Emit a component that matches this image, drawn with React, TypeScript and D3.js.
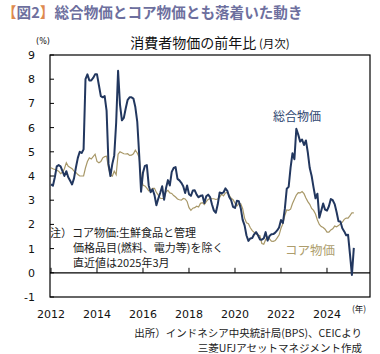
import * as d3 from "d3";

// 総合物価 (headline CPI, y/y %), monthly from Jan 2012
const headline2012 = [3.65, 3.6, 3.95, 4.4, 4.45, 4.4, 4.2, 4.0, 4.2, 3.95, 3.8, 3.65];
const headline2013 = [3.9, 4.35, 4.75, 5.0, 4.95, 5.1, 8.0, 8.2, 7.95, 7.95, 8.05, 8.2];
const headline2014 = [8.2, 7.75, 7.3, 7.25, 7.3, 6.7, 4.5, 4.0, 4.5, 4.85, 6.2, 8.35];
const headline2015 = [6.95, 6.3, 6.4, 6.8, 7.15, 7.25, 7.25, 7.2, 6.85, 6.25, 4.9, 3.35];
const headline2016 = [4.14, 4.42, 4.45, 3.6, 3.33, 3.45, 3.21, 2.79, 3.07, 3.31, 3.58, 3.02];
const headline2017 = [3.49, 3.83, 3.61, 4.17, 4.33, 4.37, 3.88, 3.82, 3.72, 3.58, 3.3, 3.61];
const headline2018 = [3.25, 3.18, 3.4, 3.41, 3.23, 3.12, 3.18, 3.2, 2.88, 3.16, 3.23, 3.13];
const headline2019 = [2.82, 2.57, 2.48, 2.83, 3.32, 3.28, 3.32, 3.49, 3.39, 3.13, 3.0, 2.72];
const headline2020 = [2.68, 2.98, 2.96, 2.67, 2.19, 1.96, 1.54, 1.32, 1.42, 1.44, 1.59, 1.68];
const headline2021 = [1.55, 1.38, 1.37, 1.42, 1.68, 1.33, 1.52, 1.59, 1.6, 1.66, 1.75, 1.87];
const headline2022 = [2.18, 2.06, 2.64, 3.47, 3.55, 4.35, 4.94, 4.69, 5.95, 5.71, 5.42, 5.51];
const headline2023 = [5.28, 5.47, 4.97, 4.33, 4.0, 3.52, 3.08, 3.27, 2.28, 2.56, 2.86, 2.61];
const headline2024 = [2.57, 2.75, 3.05, 3.0, 2.84, 2.51, 2.13, 2.12, 1.84, 1.71, 1.55, 1.57];
const headline2025 = [0.76, -0.09, 1.03];

// コア物価 (core CPI, y/y %), monthly from Jan 2012
const core2012 = [4.34, 4.3, 4.27, 4.24, 4.2, 4.1, 4.15, 4.3, 4.55, 4.4, 4.35, 4.3];
const core2013 = [4.2, 4.15, 4.06, 4.0, 4.0, 4.0, 4.34, 4.6, 4.75, 4.7, 4.8, 4.9];
const core2014 = [4.6, 4.55, 4.6, 4.75, 4.8, 4.82, 4.34, 4.05, 4.0, 4.2, 4.05, 4.9];
const core2015 = [5.0, 4.96, 4.92, 4.91, 4.92, 4.85, 4.86, 4.92, 5.07, 4.95, 4.77, 3.95];
const core2016 = [3.62, 3.59, 3.5, 3.39, 3.41, 3.49, 3.49, 3.32, 3.21, 3.08, 3.07, 3.07];
const core2017 = [3.35, 3.41, 3.3, 3.28, 3.19, 3.13, 3.05, 3.02, 3.0, 3.07, 3.05, 2.95];
const core2018 = [2.69, 2.58, 2.67, 2.69, 2.75, 2.72, 2.87, 2.9, 2.82, 2.94, 3.03, 3.07];
const core2019 = [3.06, 3.06, 3.03, 3.05, 3.12, 3.25, 3.18, 3.3, 3.32, 3.2, 3.08, 3.02];
const core2020 = [2.88, 2.76, 2.87, 2.85, 2.65, 2.26, 2.07, 2.03, 1.86, 1.74, 1.67, 1.6];
const core2021 = [1.56, 1.53, 1.21, 1.18, 1.37, 1.49, 1.4, 1.31, 1.3, 1.33, 1.44, 1.56];
const core2022 = [1.84, 2.03, 2.37, 2.6, 2.58, 2.63, 2.86, 3.04, 3.21, 3.31, 3.3, 3.36];
const core2023 = [3.27, 3.09, 2.94, 2.83, 2.66, 2.58, 2.43, 2.18, 2.0, 1.91, 1.87, 1.8];
const core2024 = [1.68, 1.68, 1.77, 1.82, 1.93, 1.9, 1.95, 2.02, 2.09, 2.21, 2.26, 2.26];
const core2025 = [2.36, 2.48, 2.48];

const headline = [
  ...headline2012, ...headline2013, ...headline2014, ...headline2015, ...headline2016,
  ...headline2017, ...headline2018, ...headline2019, ...headline2020, ...headline2021,
  ...headline2022, ...headline2023, ...headline2024, ...headline2025,
];
const core = [
  ...core2012, ...core2013, ...core2014, ...core2015, ...core2016, ...core2017, ...core2018,
  ...core2019, ...core2020, ...core2021, ...core2022, ...core2023, ...core2024, ...core2025,
];

const xTicks = [2012, 2014, 2016, 2018, 2020, 2022, 2024];
const yTicks = [-1, 0, 1, 2, 3, 4, 5, 6, 7, 8, 9];
const noteLines = ["注）コア物価:生鮮食品と管理", "価格品目(燃料、電力等)を除く", "直近値は2025年3月"];
const sourceLines = ["出所）インドネシア中央統計局(BPS)、CEICより", "三菱UFJアセットマネジメント作成"];

const W = 380;
const H = 354;
const left = 50;
const right = 370;
const top = 55;
const bottom = 297;

const jp = "'Noto Sans CJK JP', sans-serif";
const num = "'DejaVu Sans', sans-serif";

export default function App() {
  const x = d3.scaleLinear().domain([2012, 2025.87]).range([left + 1, right]);
  const y = d3.scaleLinear().domain([-1, 9]).range([bottom, top]);
  const line = d3
    .line<number>()
    .x((_, i) => x(2012 + i / 12))
    .y((d) => y(d));

  return (
    <svg width={W} height={H} style={{ position: "absolute", left: 0, top: 0, background: "#fff" }}>
      <text x={2} y={18} fontFamily={jp} fontWeight={700} fontSize={14.6} fill="#6d6f9e">
        <tspan fill="#de8a4e">【</tspan>図2<tspan fill="#de8a4e">】</tspan>総合物価とコア物価とも落着いた動き
      </text>

      <text x={210} y={48} textAnchor="middle" fontFamily={jp} fill="#111">
        <tspan fontSize={14}>消費者物価の前年比</tspan>
        <tspan fontSize={11.5}> (月次)</tspan>
      </text>
      <text x={43} y={44} textAnchor="middle" fontFamily={num} fontSize={8} fill="#111">(%)</text>

      <rect x={left} y={top} width={right - left} height={bottom - top} fill="none" stroke="#000" strokeWidth={1.2} />
      <line x1={left} x2={right} y1={y(0)} y2={y(0)} stroke="#000" strokeWidth={1.2} />

      {yTicks.map((t) => (
        <g key={t}>
          <line x1={left} x2={left + 4} y1={y(t)} y2={y(t)} stroke="#000" />
          <text x={35} y={y(t)} dy="0.36em" textAnchor="end" fontFamily={num} fontSize={11} fill="#111">
            {t}
          </text>
        </g>
      ))}
      {xTicks.map((t) => (
        <g key={t}>
          <line x1={x(t)} x2={x(t)} y1={y(0)} y2={y(0) - 5} stroke="#000" />
          <text x={x(t)} y={318} textAnchor="middle" fontFamily={num} fontSize={11} fill="#111">
            {t}
          </text>
        </g>
      ))}
      <text x={359} y={312} textAnchor="middle" fontFamily={jp} fontSize={8.5} fill="#111">(年)</text>

      <g fontFamily={jp} fontSize={11} fill="#222">
        {noteLines.map((s, i) => (
          <text key={s} x={i === 0 ? 50 : 73} y={237 + i * 15}>
            {s}
          </text>
        ))}
      </g>

      <path d={line(core) ?? ""} fill="none" stroke="#a89868" strokeWidth={1.2} />
      <path d={line(headline) ?? ""} fill="none" stroke="#22375f" strokeWidth={2} strokeLinejoin="round" />

      <text x={297} y={121} textAnchor="middle" fontFamily={jp} fontSize={12} fill="#2e4670">総合物価</text>
      <text x={310} y={255} textAnchor="middle" fontFamily={jp} fontSize={12.5} fill="#ad9d6c">コア物価</text>

      <g fontFamily={jp} fontSize={10.5} fill="#222" textAnchor="end">
        {sourceLines.map((s, i) => (
          <text key={s} x={362} y={337 + i * 15}>
            {s}
          </text>
        ))}
      </g>
    </svg>
  );
}
